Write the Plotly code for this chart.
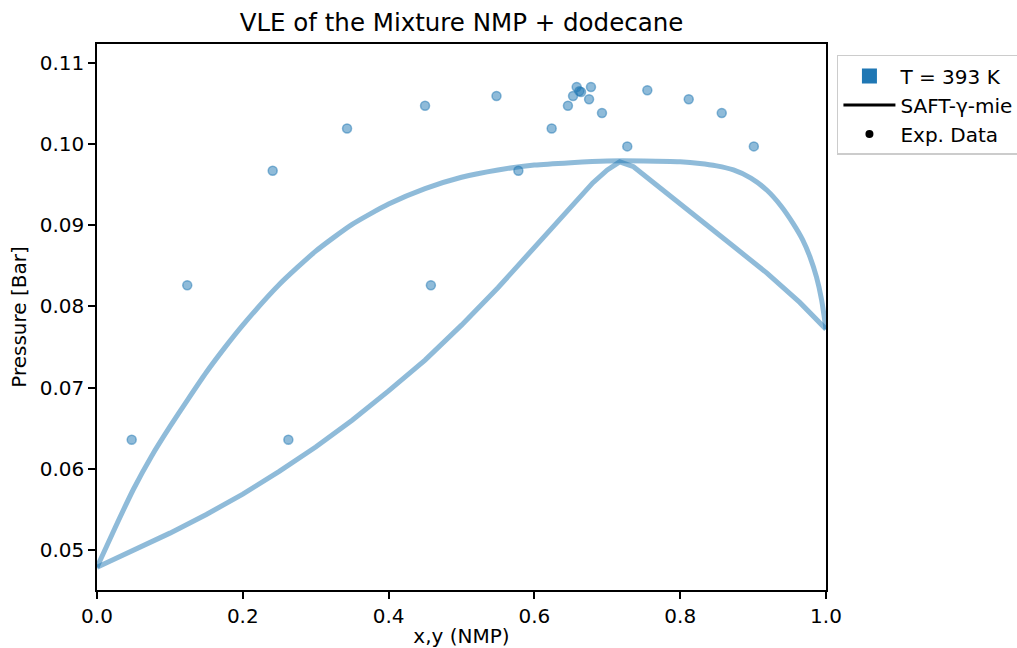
import plotly.graph_objects as go

# Bubble curve (upper)
bubble_x = [0.0, 0.025, 0.05, 0.075, 0.10, 0.125, 0.15, 0.175, 0.20, 0.25, 0.30, 0.35, 0.40, 0.45, 0.50,
            0.55, 0.60, 0.65, 0.70, 0.75, 0.80, 0.827, 0.85, 0.873, 0.897, 0.919, 0.938, 0.955, 0.968,
            0.978, 0.987, 0.994, 1.0]
bubble_p = [0.0479, 0.0528, 0.0575, 0.0616, 0.0652, 0.0686, 0.0719, 0.0749, 0.0777, 0.0827, 0.0868, 0.0901,
            0.0926, 0.0945, 0.0959, 0.0968, 0.0974, 0.0977, 0.0979, 0.0979, 0.0978, 0.0976, 0.0973, 0.0968,
            0.0958, 0.0943, 0.0924, 0.0902, 0.0882, 0.0861, 0.0836, 0.0808, 0.0772]

# Dew curve (lower)
dew_x = [0.0, 0.05, 0.10, 0.15, 0.20, 0.25, 0.30, 0.35, 0.40, 0.45, 0.50, 0.55, 0.60, 0.65, 0.68, 0.70,
         0.717, 0.736, 0.78, 0.827, 0.873, 0.919, 0.964, 1.0]
dew_p = [0.0479, 0.0500, 0.0521, 0.0544, 0.0569, 0.0597, 0.0627, 0.0660, 0.0696, 0.0734, 0.0777, 0.0823,
         0.0872, 0.0922, 0.0952, 0.0968, 0.0978, 0.0972, 0.0940, 0.0906, 0.0874, 0.0841, 0.0805, 0.0772]

# Experimental data
exp_x = [0.0476, 0.2625, 0.1238, 0.458, 0.241, 0.578, 0.343, 0.6237, 0.450, 0.646, 0.548, 0.653,
         0.658, 0.6776, 0.6616, 0.7549, 0.675, 0.8117, 0.6927, 0.857, 0.7274, 0.901, 0.664]
exp_p = [0.0636, 0.0636, 0.0826, 0.0826, 0.0967, 0.0967, 0.1019, 0.1019, 0.1047, 0.1047, 0.1059, 0.1059,
         0.1070, 0.1070, 0.1065, 0.1066, 0.1055, 0.1055, 0.1038, 0.1038, 0.0997, 0.0997, 0.1064]

x_ticks = [0.0, 0.2, 0.4, 0.6, 0.8, 1.0]
x_tick_labels = ["0.0", "0.2", "0.4", "0.6", "0.8", "1.0"]
y_ticks = [0.05, 0.06, 0.07, 0.08, 0.09, 0.10, 0.11]
y_tick_labels = ["0.05", "0.06", "0.07", "0.08", "0.09", "0.10", "0.11"]

blue = "#1f77b4"
blue_a = "rgba(31,119,180,0.5)"
FONT = "DejaVu Sans"

fig = go.Figure()
fig.add_trace(go.Scatter(x=bubble_x, y=bubble_p, mode="lines",
                         line=dict(color=blue_a, width=5, shape="spline", smoothing=0.6),
                         showlegend=False, hoverinfo="skip"))
fig.add_trace(go.Scatter(x=dew_x, y=dew_p, mode="lines",
                         line=dict(color=blue_a, width=5),
                         showlegend=False, hoverinfo="skip"))
fig.add_trace(go.Scatter(x=exp_x, y=exp_p, mode="markers",
                         marker=dict(color=blue_a, size=9, line=dict(color=blue_a, width=1.5)),
                         showlegend=False))

# Legend entries
fig.add_trace(go.Scatter(x=[None], y=[None], mode="markers", name="T = 393 K",
                         marker=dict(symbol="square", color=blue, size=15)))
fig.add_trace(go.Scatter(x=[None], y=[None], mode="lines", name="SAFT-γ-mie",
                         line=dict(color="black", width=3)))
fig.add_trace(go.Scatter(x=[None], y=[None], mode="markers", name="Exp. Data",
                         marker=dict(color="black", size=8)))

fig.update_layout(
    width=1017, height=648,
    margin=dict(l=97, r=191, t=44, b=58, autoexpand=False),
    paper_bgcolor="white", plot_bgcolor="white",
    font=dict(family=FONT, size=20, color="black"),
    title=dict(text="VLE of the Mixture NMP + dodecane", x=(97 + 826) / 2 / 1017, xanchor="center",
               y=1 - 22 / 648, yanchor="middle", font=dict(size=24.5, family=FONT)),
    showlegend=True,
    legend=dict(x=1.015, y=0.98, xanchor="left", yanchor="top",
                bordercolor="#cccccc", borderwidth=1.5, bgcolor="white",
                font=dict(size=20, family=FONT), itemwidth=52),
)
fig.update_xaxes(range=[0, 1], tickvals=x_ticks, ticktext=x_tick_labels,
                 showline=True, linecolor="black", linewidth=1.6, mirror=True,
                 ticks="outside", ticklen=7, tickwidth=1.6, tickcolor="black",
                 showgrid=False, zeroline=False,
                 title=dict(text="x,y (NMP)", standoff=6, font=dict(size=20)), automargin=False)
fig.update_yaxes(range=[0.0451, 0.1123], tickvals=y_ticks, ticktext=y_tick_labels,
                 showline=True, linecolor="black", linewidth=1.6, mirror=True,
                 ticks="outside", ticklen=7, tickwidth=1.6, tickcolor="black",
                 showgrid=False, zeroline=False,
                 title=dict(text="Pressure [Bar]", standoff=8, font=dict(size=20)), automargin=False)

fig.write_html("out.html")
